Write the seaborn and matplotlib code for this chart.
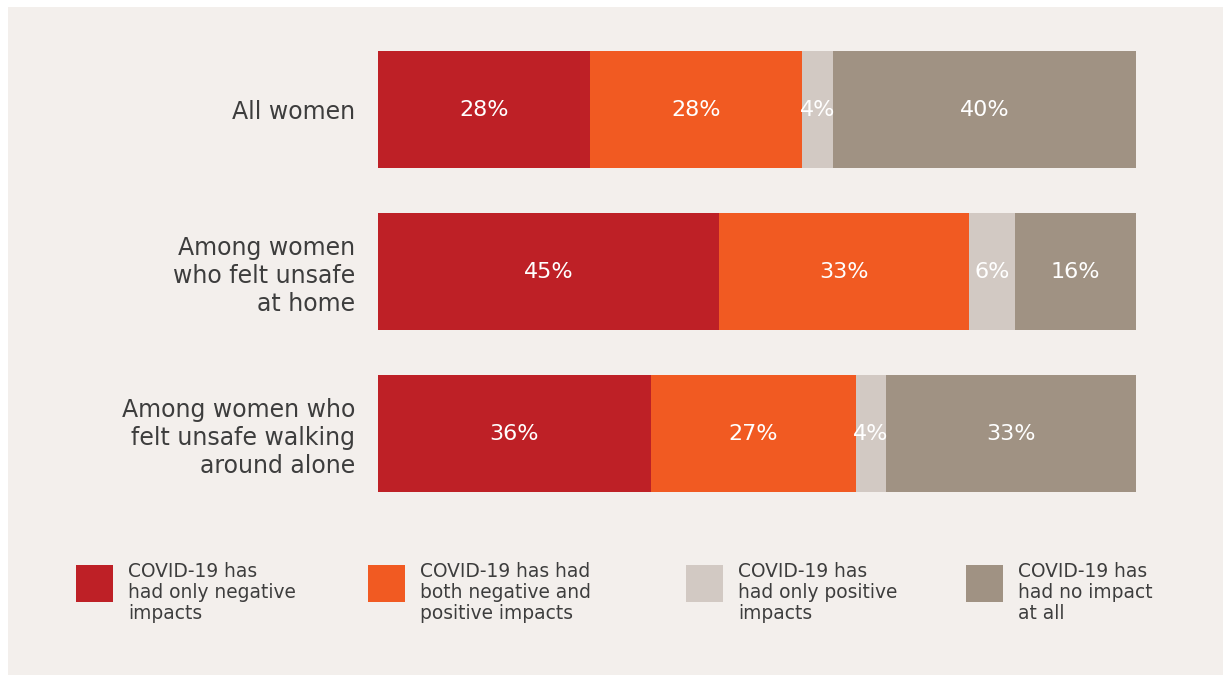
import matplotlib
matplotlib.use("Agg")
import matplotlib.pyplot as plt
from matplotlib.patches import Rectangle
import numpy as np
import pandas as pd
import seaborn as sns

categories = [
    "All women",
    "Among women\nwho felt unsafe\nat home",
    "Among women who\nfelt unsafe walking\naround alone",
]
series_names = [
    "COVID-19 has\nhad only negative\nimpacts",
    "COVID-19 has had\nboth negative and\npositive impacts",
    "COVID-19 has\nhad only positive\nimpacts",
    "COVID-19 has\nhad no impact\nat all",
]
only_negative = [28, 45, 36]
negative_and_positive = [28, 33, 27]
only_positive = [4, 6, 4]
no_impact = [40, 16, 33]

colors = ["#be2026", "#f15a22", "#d2c9c3", "#a09283"]
panel_bg = "#f3efec"
text_color = "#3d3d3d"

sns.set_theme(style="white")
plt.rcParams["font.family"] = ["DejaVu Sans"]

W, H = 1223, 675
fig = plt.figure(figsize=(W / 100, H / 100), dpi=100, facecolor="white")

# light panel behind the whole chart
fig.patches.append(Rectangle((8 / W, 0), (W - 8) / W, (H - 7) / H,
                             transform=fig.transFigure, facecolor=panel_bg,
                             edgecolor="none", zorder=-5))

ax = fig.add_axes([378 / W, 1 - 514.5 / H, 758 / W, 486 / H])
ax.set_facecolor("none")
ax.set_zorder(1)

series = [only_negative, negative_and_positive, only_positive, no_impact]
vals = np.array(series, dtype=float)          # shape (4, 3)
cum = np.cumsum(vals, axis=0)
starts = cum - vals

# stacked bars: draw cumulative totals from the largest down
for i in range(len(series) - 1, -1, -1):
    df = pd.DataFrame({"category": categories, "value": cum[i]})
    sns.barplot(data=df, x="value", y="category", orient="h",
                color=colors[i], saturation=1, width=0.72,
                edgecolor="none", linewidth=0, ax=ax)

for i in range(len(series)):
    for j in range(len(categories)):
        ax.text(starts[i, j] + vals[i, j] / 2, j, f"{int(vals[i, j])}%",
                ha="center", va="center", color="white", fontsize=16)

ax.set_xlim(0, 100)
ax.set_ylim(2.5, -0.5)
ax.set_xlabel("")
ax.set_ylabel("")
ax.set_xticks([])
for s in ax.spines.values():
    s.set_visible(False)
ax.tick_params(axis="y", length=0, pad=16.5)
ax.set_yticks(range(len(categories)))
ax.set_yticklabels(categories, fontsize=17, color=text_color, ha="right")
for t in ax.get_yticklabels():
    t.set_linespacing(1.22)

# legend: squares with three-line captions
leg_x = [76, 368, 686, 966]
for k, name in enumerate(series_names):
    x0 = leg_x[k]
    fig.patches.append(Rectangle((x0 / W, 1 - 602 / H), 37 / W, 37 / H,
                                 transform=fig.transFigure,
                                 facecolor=colors[k], edgecolor="none",
                                 zorder=2))
    fig.text((x0 + 52) / W, 1 - 562 / H, name, ha="left", va="top",
             fontsize=13.4, color=text_color, linespacing=1.13)

fig.savefig("out.png", dpi=100, facecolor="white")
